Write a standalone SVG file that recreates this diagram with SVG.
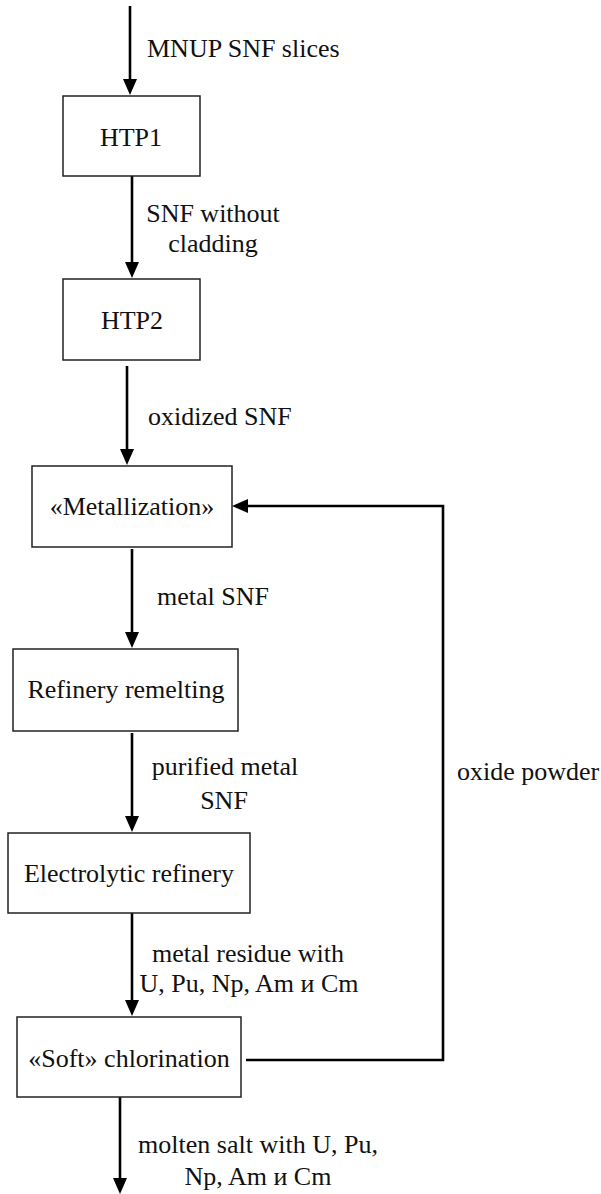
<svg xmlns="http://www.w3.org/2000/svg" width="601" height="1194" viewBox="0 0 601 1194">
  <style>
    .box { fill: #ffffff; stroke: #222222; stroke-width: 1.5; }
    .conn { fill: none; stroke: #000000; stroke-width: 2.6; }
    .c { text-anchor: middle; }
  </style>
  <defs>
    <marker id="arr" viewBox="0 0 16 14" refX="6" refY="7" markerWidth="16" markerHeight="14" markerUnits="userSpaceOnUse" orient="auto">
      <path d="M0,0 L16,7 L0,14 z" fill="#000000"/>
    </marker>
  </defs>
  <rect width="601" height="1194" fill="#ffffff"/>

  <g id="connectors">
    <path class="conn" d="M130,6 L130,85" marker-end="url(#arr)"/>
    <path class="conn" d="M132,176 L132,268" marker-end="url(#arr)"/>
    <path class="conn" d="M127,366 L127,455" marker-end="url(#arr)"/>
    <path class="conn" d="M132,549 L132,638" marker-end="url(#arr)"/>
    <path class="conn" d="M132,733 L132,822" marker-end="url(#arr)"/>
    <path class="conn" d="M132,913 L132,1006" marker-end="url(#arr)"/>
    <path class="conn" d="M120,1097 L120,1184" marker-end="url(#arr)"/>
    <path class="conn" d="M246,1060 L443,1060 L443,506 L242,506" marker-end="url(#arr)"/>
  </g>

  <g font-family="'Liberation Serif', 'Times New Roman', 'DejaVu Serif', serif" font-size="26" fill="#111111">
  <g id="labels">
    <text x="147" y="57">MNUP SNF slices</text>
    <text class="c" x="213" y="222">SNF without</text>
    <text class="c" x="213" y="252">cladding</text>
    <text x="148" y="425">oxidized SNF</text>
    <text x="157" y="605">metal SNF</text>
    <text class="c" x="225" y="775">purified metal</text>
    <text class="c" x="224" y="809">SNF</text>
    <text class="c" x="248" y="962">metal residue with</text>
    <text class="c" x="249" y="992">U, Pu, Np, Am и Cm</text>
    <text class="c" x="258" y="1153">molten salt with U, Pu,</text>
    <text class="c" x="258" y="1185">Np, Am и Cm</text>
    <text x="457" y="780">oxide powder</text>
  </g>

  <g id="node-htp1">
    <rect class="box" x="63" y="96" width="137" height="80"/>
    <text class="c" x="131" y="146">HTP1</text>
  </g>
  <g id="node-htp2">
    <rect class="box" x="63" y="279" width="137" height="81"/>
    <text class="c" x="132" y="329">HTP2</text>
  </g>
  <g id="node-metallization">
    <rect class="box" x="32" y="466" width="200" height="81"/>
    <text class="c" x="132" y="515">«Metallization»</text>
  </g>
  <g id="node-remelting">
    <rect class="box" x="13" y="649" width="225" height="82"/>
    <text class="c" x="126" y="698">Refinery remelting</text>
  </g>
  <g id="node-electrolytic">
    <rect class="box" x="8" y="833" width="242" height="80"/>
    <text class="c" x="129" y="882">Electrolytic refinery</text>
  </g>
  <g id="node-chlorination">
    <rect class="box" x="17" y="1017" width="224" height="80"/>
    <text class="c" x="129" y="1067">«Soft» chlorination</text>
  </g>
  </g>
</svg>
